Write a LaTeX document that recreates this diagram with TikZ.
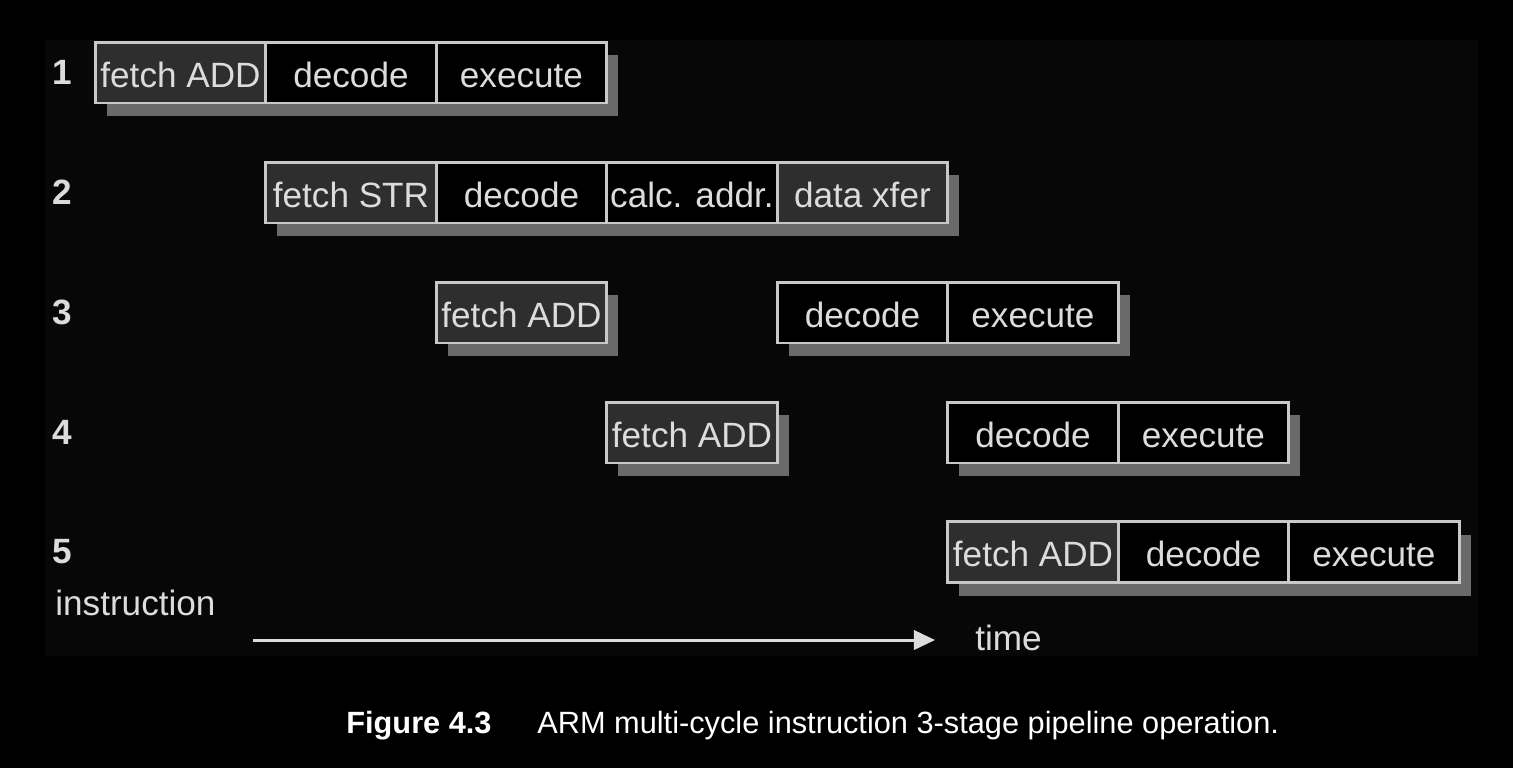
\documentclass[tikz,border=0pt]{standalone}
\usepackage{fontspec}
\setmainfont{Liberation Sans}
\usepackage{tikz}
\usetikzlibrary{positioning,shadows,arrows.meta}
\usepackage{xcolor}

\definecolor{scanbg}{HTML}{070707}
\definecolor{boxline}{HTML}{C8C8C8}
\definecolor{boxtext}{HTML}{DCDCDC}
\definecolor{fetchfill}{HTML}{2E2E2E}
\definecolor{shadowgray}{HTML}{6A6A6A}

\tikzset{
  stage/.style={draw=boxline, line width=1.7pt, fill=black, text=boxtext,
    minimum width=3.41cm, minimum height=1.22cm, inner sep=0pt, outer sep=0pt,
    text height=17pt, text depth=0pt,
    font=\fontsize{20}{24}\selectfont,
    drop shadow={shadow xshift=6.5pt, shadow yshift=-7.5pt, fill=shadowgray, opacity=1}},
  fetchstage/.style={stage, fill=fetchfill},
  rowlabel/.style={text=boxtext, font=\fontsize{20}{24}\selectfont\bfseries},
  axislabel/.style={text=boxtext, font=\fontsize{20}{24}\selectfont, inner sep=0pt}
}

\begin{document}
\begin{tikzpicture}[x=0.02cm, y=-0.02cm, >={Triangle[length=12pt,width=11pt]}]

    % page and scanned area
    \fill[black] (0,0) rectangle (1513,768);
    \fill[scanbg] (45,40) rectangle (1478,656);

    % instruction numbers
    \foreach \n/\y in {1/72.5,2/192.5,3/312.5,4/432.5,5/552}{
        \node[rowlabel] (num\n) at (62,\y) {\n};
    }

    % instruction 1
    \node[fetchstage] (fetchA) at (180.5,72.5) {fetch ADD};
    \node[stage, right=0pt of fetchA] (decA) {decode};
    \node[stage, right=0pt of decA] (exeA) {execute};

    % instruction 2
    \node[fetchstage] (fetchB) at (351,192.5) {fetch STR};
    \node[stage, right=0pt of fetchB] (decB) {decode};
    \node[stage, right=0pt of decB] (calcB) {calc. addr.};
    \node[fetchstage, right=0pt of calcB] (xferB) {data xfer};

    % instruction 3
    \node[fetchstage] (fetchC) at (521.5,312.5) {fetch ADD};
    \node[stage] (decC) at (862.5,312.5) {decode};
    \node[stage, right=0pt of decC] (exeC) {execute};

    % instruction 4
    \node[fetchstage] (fetchD) at (692,432.5) {fetch ADD};
    \node[stage] (decD) at (1033,432.5) {decode};
    \node[stage, right=0pt of decD] (exeD) {execute};

    % instruction 5
    \node[fetchstage] (fetchE) at (1033,552) {fetch ADD};
    \node[stage, right=0pt of fetchE] (decE) {decode};
    \node[stage, right=0pt of decE] (exeE) {execute};

    % axis labels and time arrow
    \node[axislabel, anchor=west] (instr) at (55,603) {instruction};
    \node[axislabel, anchor=west] (time) at (975,638) {time};
    \coordinate (tstart) at (253,640);
    \draw[->, boxtext, line width=1.7pt, shorten >=0.8cm] (tstart) -- (tstart -| time.west);

    % caption
    \node[anchor=west, text=white, inner sep=0pt, font=\fontsize{17.5}{21}\selectfont\bfseries]
        (fignum) at (346,726) {Figure 4.3};
    \node[anchor=west, text=white, inner sep=0pt, font=\fontsize{17.5}{21}\selectfont]
        (figtext) at (537,726) {ARM multi-cycle instruction 3-stage pipeline operation.};
\end{tikzpicture}
\end{document}
